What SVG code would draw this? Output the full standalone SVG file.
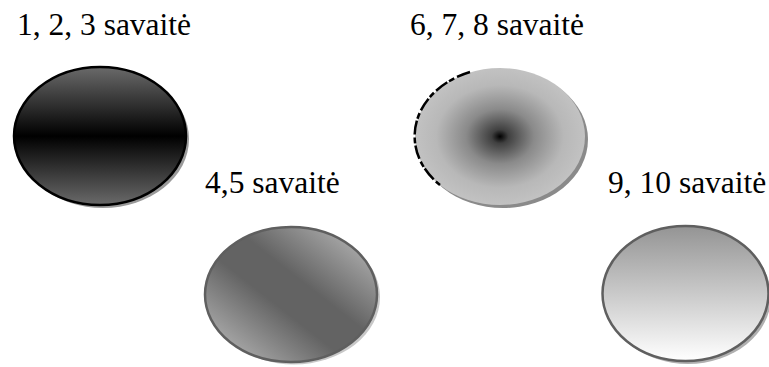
<svg xmlns="http://www.w3.org/2000/svg" width="769" height="367" viewBox="0 0 769 367">
<defs>
<linearGradient id="g1" x1="0" y1="0" x2="0" y2="1">
<stop offset="0" stop-color="#6a6a6a"/>
<stop offset="0.5" stop-color="#000"/>
<stop offset="1" stop-color="#6a6a6a"/>
</linearGradient>
<linearGradient id="g2" x1="1" y1="0" x2="0" y2="1">
<stop offset="0" stop-color="#c4c4c4"/>
<stop offset="0.42" stop-color="#636363"/>
<stop offset="0.58" stop-color="#636363"/>
<stop offset="1" stop-color="#c4c4c4"/>
</linearGradient>
<radialGradient id="g3" cx="0.5" cy="0.5" r="0.5">
<stop offset="0" stop-color="#000"/>
<stop offset="0.1" stop-color="#404040"/>
<stop offset="0.4" stop-color="#8a8a8a"/>
<stop offset="0.75" stop-color="#b8b8b8"/>
<stop offset="1" stop-color="#c2c2c2"/>
</radialGradient>
<linearGradient id="g4" x1="0" y1="0" x2="0" y2="1">
<stop offset="0" stop-color="#949494"/>
<stop offset="1" stop-color="#ffffff"/>
</linearGradient>
</defs>
<style>
text{font-family:'Liberation Serif','DejaVu Serif',serif;font-size:31.5px;fill:#000}
.sh{fill:#9a9a9a}
</style>
<g id="node1">
<ellipse class="sh" cx="103" cy="139" rx="86" ry="69"/>
<ellipse cx="100" cy="136" rx="86" ry="69" fill="url(#g1)" stroke="#000" stroke-width="2.5"/>
<text x="17" y="35">1, 2, 3 savaitė</text>
</g>
<g id="node2">
<ellipse cx="294" cy="297" rx="86" ry="67.5" fill="#c8c8c8"/>
<ellipse cx="291" cy="294.5" rx="86" ry="67.5" fill="url(#g2)" stroke="#5f5f5f" stroke-width="2.5"/>
<text x="205" y="193">4,5 savaitė</text>
</g>
<g id="node3">
<ellipse cx="503" cy="139.5" rx="85" ry="68.5" fill="#8a8a8a"/>
<ellipse cx="500" cy="136.5" rx="85" ry="68.5" fill="url(#g3)"/>
<path d="M470 72 A85 68.5 0 0 0 440 185" fill="none" stroke="#000" stroke-width="2.5" stroke-dasharray="14 3 6 2"/>
<text x="410" y="35">6, 7, 8 savaitė</text>
</g>
<g id="node4">
<ellipse cx="688" cy="296.5" rx="83" ry="67.5" fill="#b0b0b0"/>
<ellipse cx="685.5" cy="293.5" rx="83" ry="67.5" fill="url(#g4)" stroke="#5f5f5f" stroke-width="2.5"/>
<text x="608" y="193">9, 10 savaitė</text>
</g>
<g id="connectors"/>
</svg>
